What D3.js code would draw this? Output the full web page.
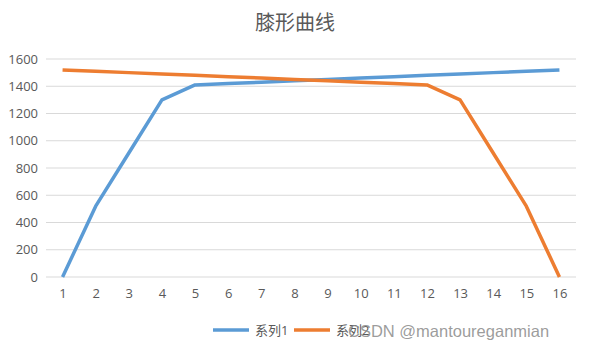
<!DOCTYPE html>
<html>
<head>
<meta charset="utf-8">
<script src="https://cdn.jsdelivr.net/npm/d3@7"></script>
<style>
  body { margin: 0; background: #fff; }
  text { font-family: "Open Sans", "Noto Sans CJK SC", sans-serif; }
</style>
</head>
<body>
<div id="chart"></div>
<script>
const categories = [1, 2, 3, 4, 5, 6, 7, 8, 9, 10, 11, 12, 13, 14, 15, 16];
const series1 = [0, 520, 910, 1300, 1410, 1420, 1430, 1440, 1450, 1460, 1470, 1480, 1490, 1500, 1510, 1520];
const series2 = [1520, 1510, 1500, 1490, 1480, 1470, 1460, 1450, 1440, 1430, 1420, 1410, 1300, 910, 520, 0];
const yTicks = [0, 200, 400, 600, 800, 1000, 1200, 1400, 1600];
const seriesNames = ["系列1", "系列2"];

const W = 591, H = 353;
const plot = { left: 46, right: 576, top: 59, bottom: 277 };

const svg = d3.select("#chart").append("svg")
  .attr("width", W).attr("height", H);

const x = d3.scalePoint()
  .domain(categories)
  .range([plot.left, plot.right])
  .padding(0.5);

const y = d3.scaleLinear()
  .domain([0, 1600])
  .range([plot.bottom, plot.top]);

const color = d3.scaleOrdinal().domain(seriesNames).range(["#5b9bd5", "#ed7d31"]);

// title
svg.append("text")
  .attr("x", 295).attr("y", 30)
  .attr("text-anchor", "middle")
  .style("font-family", "'Noto Sans CJK SC', sans-serif")
  .style("font-size", "20px")
  .attr("fill", "#595959")
  .text("膝形曲线");

// grid
svg.append("g")
  .selectAll("line")
  .data(yTicks)
  .join("line")
  .attr("x1", plot.left).attr("x2", plot.right)
  .attr("y1", d => y(d)).attr("y2", d => y(d))
  .attr("stroke", "#d9d9d9").attr("stroke-width", 1);

// y axis labels
const yAxis = svg.append("g")
  .attr("transform", `translate(${plot.left},0)`)
  .call(d3.axisLeft(y).tickValues(yTicks).tickFormat(d3.format("d")).tickSize(0).tickPadding(8));
yAxis.select(".domain").remove();
yAxis.selectAll("text").attr("fill", "#595959").style("font-size", "13px");

// x axis labels
const xAxis = svg.append("g")
  .attr("transform", `translate(0,${plot.bottom})`)
  .call(d3.axisBottom(x).tickSize(0).tickPadding(12));
xAxis.select(".domain").remove();
xAxis.selectAll("text").attr("fill", "#595959").style("font-size", "13px");

const line = d3.line()
  .x((d, i) => x(categories[i]))
  .y(d => y(d));

[series1, series2].forEach((s, i) => {
  svg.append("path")
    .datum(s)
    .attr("fill", "none")
    .attr("stroke", color(seriesNames[i]))
    .attr("stroke-width", 3.5)
    .attr("stroke-linejoin", "round")
    .attr("d", line);
});

// legend
const legendX = [213, 294];
seriesNames.forEach((name, i) => {
  const g = svg.append("g").attr("transform", `translate(${legendX[i]},330)`);
  g.append("line")
    .attr("x1", 0).attr("x2", 36)
    .attr("stroke", color(name)).attr("stroke-width", 3.5);
  g.append("text")
    .attr("x", 42).attr("y", 4.5)
    .attr("fill", "#595959")
    .style("font-size", "13px")
    .text(name);
});

// watermark
svg.append("text")
  .attr("x", 348).attr("y", 337)
  .attr("fill", "#8a8a8a")
  .attr("fill-opacity", 0.85)
  .style("font-family", "'Liberation Sans', sans-serif")
  .style("font-size", "16.5px")
  .text("CSDN @mantoureganmian");
</script>
</body>
</html>
